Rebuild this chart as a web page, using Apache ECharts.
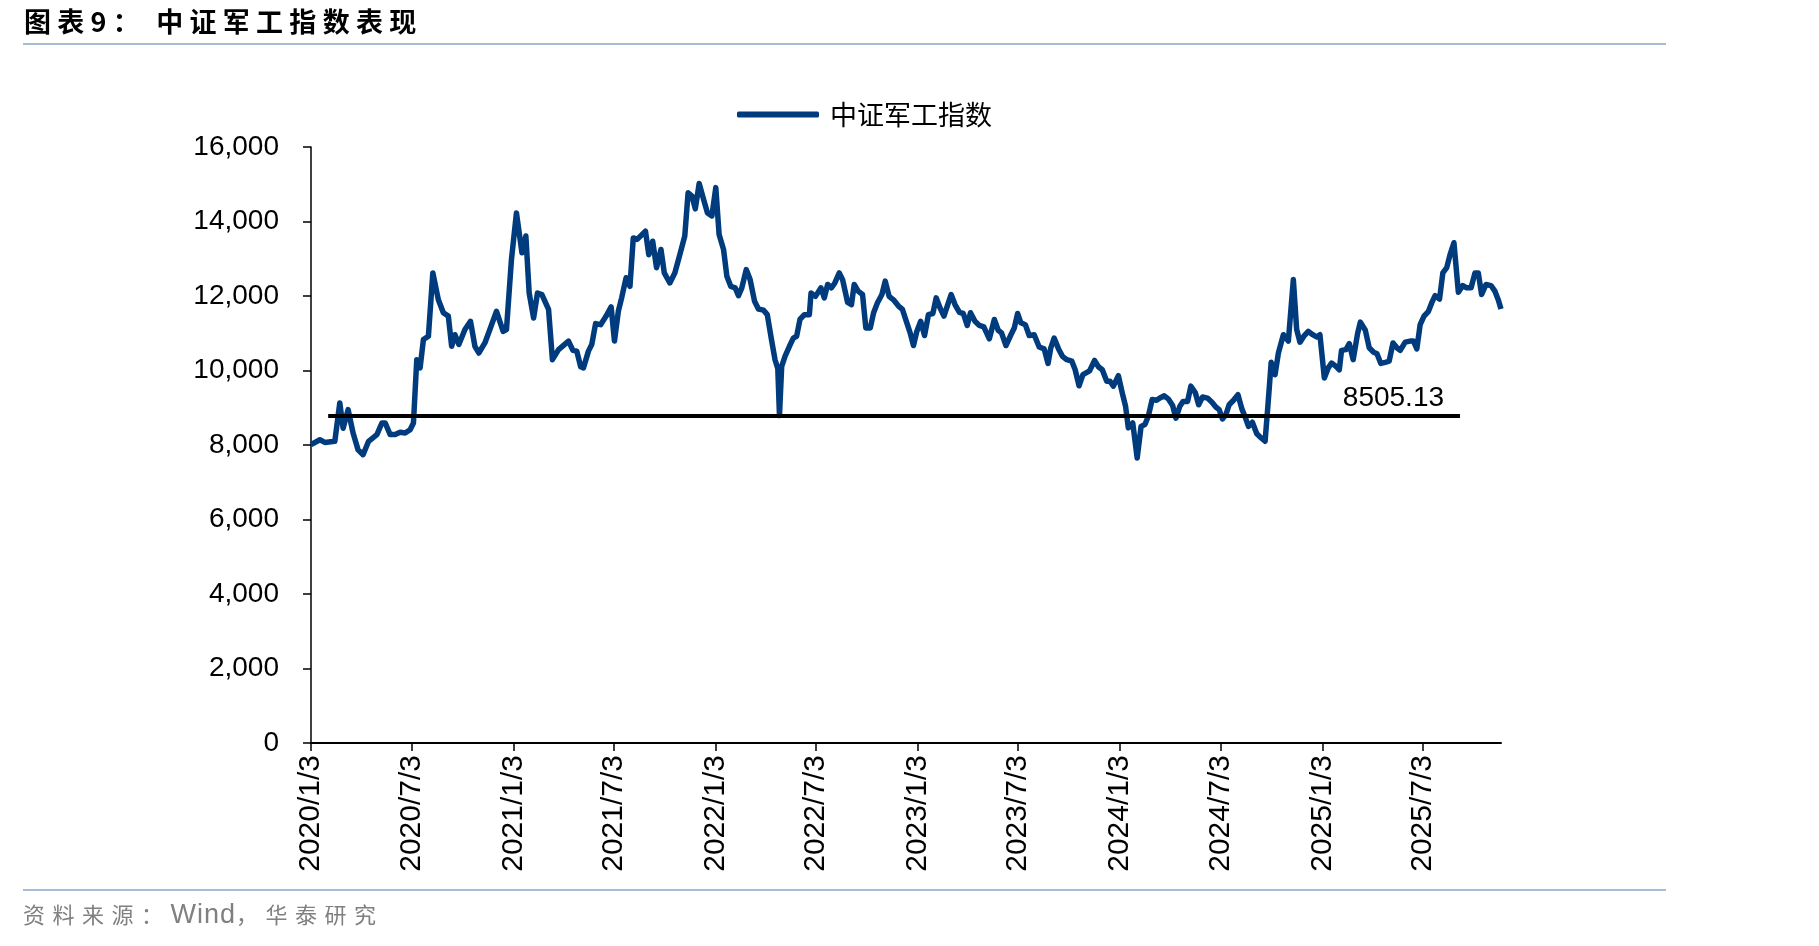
<!DOCTYPE html>
<html>
<head>
<meta charset="utf-8">
<script src="https://cdn.jsdelivr.net/npm/echarts@6/dist/echarts.min.js"></script>
<style>
  html, body { margin: 0; padding: 0; background: #fff; }
  body { width: 1819px; height: 946px; position: relative; overflow: hidden; }
  #chart { position: absolute; left: 0; top: 0; width: 1819px; height: 946px; }
  .rule { position: absolute; left: 23px; width: 1643px; height: 2px; background: #a9bcd6; }
  #title { position: absolute; left: 24px; top: 1px; font: bold 27px "Noto Sans CJK SC"; letter-spacing: 6.3px; color: #000; }
  #title span { margin-left: 10px; }
  #source { position: absolute; left: 23px; top: 897px; font: 22px "Noto Sans CJK SC"; letter-spacing: 7.5px; color: #808080; }
  #source span { font: 27px "Liberation Sans", Arial, sans-serif; letter-spacing: 1px; }
</style>
</head>
<body>
<div id="chart"></div>
<div id="title">图表9：<span>中证军工指数表现</span></div>
<div class="rule" style="top:43px"></div>
<div class="rule" style="top:889px"></div>
<div id="source">资料来源：<span>Wind</span>，华泰研究</div>
<script>
// days after 2020/1/3
var days = [
  0, 16, 25, 43, 52, 58, 67, 76, 85, 94,
  104, 119, 128, 134, 143, 152, 161, 170, 179, 185,
  191, 197, 203, 212, 220, 230, 239, 248, 254, 260,
  267, 278, 288, 296, 303, 314, 323, 335, 347, 353,
  362, 371, 381, 388, 394, 402, 409, 417, 429, 436,
  447, 465, 473, 480, 487, 492, 501, 507, 514, 523,
  533, 542, 548, 555, 561, 569, 576, 582, 589, 604,
  610, 617, 624, 632, 638, 648, 657, 666, 675, 681,
  688, 694, 701, 709, 716, 724, 731, 737, 745, 751,
  758, 766, 772, 778, 786, 793, 801, 808, 817, 824,
  832, 838, 843, 846, 850, 856, 864, 871, 877, 883,
  891, 900, 903, 911, 921, 927, 933, 940, 946, 954,
  960, 969, 976, 981, 988, 996, 1002, 1010, 1016, 1023,
  1031, 1037, 1044, 1053, 1061, 1068, 1076, 1082, 1088, 1094,
  1101, 1108, 1115, 1123, 1129, 1136, 1143, 1149, 1156, 1163,
  1171, 1178, 1185, 1191, 1199, 1207, 1215, 1225, 1234, 1241,
  1247, 1255, 1264, 1270, 1276, 1282, 1290, 1297, 1306, 1315,
  1324, 1331, 1336, 1342, 1350, 1357, 1365, 1374, 1380, 1387,
  1394, 1406, 1415, 1422, 1429, 1437, 1443, 1449, 1458, 1465,
  1471, 1476, 1484, 1492, 1499, 1506, 1512, 1519, 1527, 1533,
  1541, 1548, 1556, 1562, 1569, 1575, 1583, 1589, 1597, 1603,
  1610, 1619, 1627, 1634, 1640, 1646, 1652, 1658, 1666, 1674,
  1681, 1687, 1693, 1700, 1708, 1716, 1723, 1728, 1734, 1741,
  1747, 1756, 1765, 1774, 1780, 1786, 1793, 1801, 1809, 1816,
  1822, 1830, 1837, 1843, 1851, 1857, 1861, 1869, 1875, 1882,
  1890, 1895, 1904, 1911, 1919, 1925, 1932, 1940, 1947, 1954,
  1961, 1967, 1976, 1985, 1991, 1997, 2003, 2010, 2018, 2024,
  2030, 2038, 2044, 2051, 2057, 2064, 2072, 2080, 2087, 2095,
  2102, 2108, 2114, 2122, 2131, 2138, 2144, 2149
];
var indexValues = [
  8010, 8140, 8070, 8100, 9130, 8450, 8950, 8320, 7870, 7740,
  8100, 8280, 8590, 8590, 8280, 8280, 8340, 8320, 8410, 8590,
  10290, 10070, 10830, 10920, 12620, 11900, 11550, 11460, 10650, 10960,
  10700, 11100, 11320, 10650, 10470, 10740, 11100, 11590, 11050, 11100,
  12980, 14230, 13160, 13610, 12080, 11410, 12080, 12040, 11640, 10290,
  10560, 10790, 10540, 10520, 10100, 10070, 10520, 10700, 11260, 11230,
  11460, 11710, 10790, 11590, 11950, 12490, 12260, 13560, 13520, 13740,
  13110, 13470, 12760, 13250, 12620, 12350, 12620, 13110, 13610, 14770,
  14680, 14340, 15020, 14590, 14230, 14150, 14910, 13650, 13250, 12530,
  12260, 12220, 12010, 12220, 12710, 12440, 11860, 11650, 11620, 11500,
  10790, 10290, 10050, 8790, 10110, 10380, 10650, 10870, 10920, 11370,
  11500, 11500, 12080, 11990, 12220, 11950, 12310, 12220, 12350, 12620,
  12440, 11830, 11770, 12310, 12130, 12040, 11140, 11140, 11550, 11820,
  12040, 12400, 11990, 11880, 11730, 11640, 11280, 11010, 10670, 11050,
  11320, 10940, 11500, 11530, 11950, 11680, 11460, 11730, 12040, 11770,
  11560, 11530, 11210, 11550, 11320, 11210, 11170, 10850, 11370, 11080,
  11010, 10670, 10960, 11140, 11530, 11280, 11230, 10940, 10960, 10630,
  10580, 10190, 10610, 10870, 10580, 10380, 10290, 10250, 10020, 9590,
  9890, 9990, 10270, 10100, 10020, 9710, 9710, 9580, 9860, 9400,
  9040, 8460, 8590, 7650, 8500, 8550, 8770, 9220, 9200, 9260,
  9320, 9240, 9060, 8720, 9040, 9170, 9170, 9580, 9400, 9080,
  9290, 9260, 9150, 9020, 8950, 8700, 8810, 9080, 9200, 9350,
  8970, 8750, 8500, 8610, 8300, 8190, 8100, 9040, 10220, 9890,
  10470, 10960, 10790, 12440, 11100, 10760, 10920, 11050, 10960, 10900,
  10960, 9800, 10070, 10200, 10110, 10020, 10540, 10560, 10720, 10290,
  10990, 11300, 11080, 10610, 10490, 10450, 10190, 10220, 10250, 10740,
  10610, 10540, 10760, 10790, 10790, 10580, 11230, 11460, 11590, 11820,
  12010, 11920, 12620, 12760, 13110, 13430, 12100, 12280, 12220, 12220,
  12620, 12620, 12040, 12310, 12280, 12130, 11900, 11650
];
var tickLabels = ['2020/1/3', '2020/7/3', '2021/1/3', '2021/7/3', '2022/1/3', '2022/7/3',
  '2023/1/3', '2023/7/3', '2024/1/3', '2024/7/3', '2025/1/3', '2025/7/3'];
var refLine = { label: '8505.13', value: 8790, fromDay: 31, toDay: 2075 };
var lastDay = 2149;

var START = Date.UTC(2020, 0, 3);
function labelToDay(s) {
  var p = s.split('/').map(Number);
  return Math.round((Date.UTC(p[0], p[1] - 1, p[2]) - START) / 86400000);
}
function dayToLabel(d) {
  var t = new Date(START + Math.round(d) * 86400000);
  return t.getUTCFullYear() + '/' + (t.getUTCMonth() + 1) + '/' + t.getUTCDate();
}

function run() {
  var chart = echarts.init(document.getElementById('chart'), null, { renderer: 'canvas' });
  var tickDays = tickLabels.map(labelToDay);
  var seriesData = days.map(function (d, i) { return [d, indexValues[i]]; });
  var font = '"Liberation Sans", Arial, sans-serif';

  var option = {
    animation: false,
    backgroundColor: '#fff',
    grid: { left: 311, right: 318, top: 147, bottom: 203 },
    legend: {
      top: 96, left: 732,
      icon: 'roundRect', itemWidth: 82, itemHeight: 6, itemGap: 10,
      textStyle: { fontSize: 27, color: '#000', fontFamily: '"Noto Sans CJK SC"', padding: [0, 0, 0, 6] },
      data: ['中证军工指数']
    },
    xAxis: {
      type: 'value',
      min: 0,
      max: lastDay,
      axisLine: { lineStyle: { color: '#000', width: 2 } },
      axisTick: { show: true, length: 8, customValues: tickDays, lineStyle: { color: '#000', width: 1.5 } },
      axisLabel: {
        customValues: tickDays, rotate: 90, margin: 12, color: '#000',
        fontSize: 30, fontFamily: font, formatter: dayToLabel
      },
      splitLine: { show: false }
    },
    yAxis: {
      type: 'value', min: 0, max: 16000, interval: 2000,
      axisLine: { show: true, lineStyle: { color: '#000', width: 1.5 } },
      axisTick: { show: true, length: 8, lineStyle: { color: '#000', width: 1.5 } },
      axisLabel: {
        margin: 32, color: '#000', fontSize: 28, fontFamily: font,
        formatter: function (v) { return v.toLocaleString('en-US'); }
      },
      splitLine: { show: false }
    },
    series: [{
      name: '中证军工指数',
      type: 'line',
      data: seriesData,
      showSymbol: false,
      lineStyle: { color: '#003B7E', width: 5.5, join: 'round' },
      itemStyle: { color: '#003B7E' },
      markLine: {
        silent: true,
        symbol: ['none', 'none'],
        lineStyle: { color: '#000', width: 4, type: 'solid' },
        label: {
          show: true, position: 'insideEndTop', formatter: refLine.label,
          color: '#000', fontSize: 28, fontFamily: font, distance: [16, 3]
        },
        data: [[
          { coord: [refLine.fromDay, refLine.value] },
          { coord: [refLine.toDay, refLine.value] }
        ]]
      }
    }]
  };
  chart.setOption(option);
}

if (document.readyState !== 'loading') {
  run();
} else {
  document.addEventListener('DOMContentLoaded', run);
}
</script>
</body>
</html>
